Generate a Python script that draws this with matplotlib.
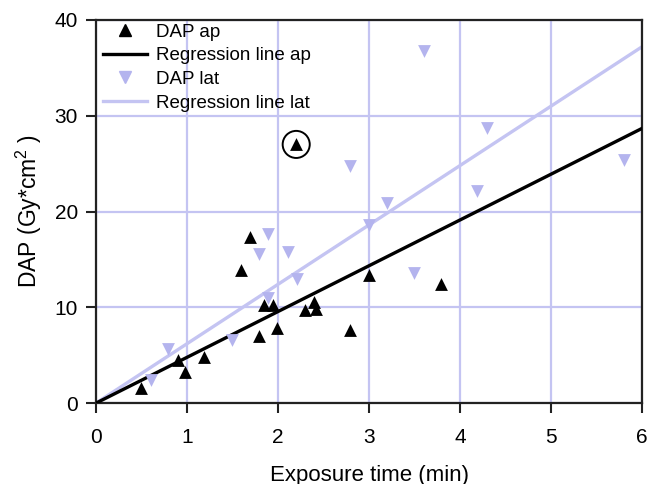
import matplotlib.pyplot as plt
import numpy as np

plt.rcParams['font.family'] = ['Liberation Sans', 'DejaVu Sans']
plt.rcParams['mathtext.fontset'] = 'custom'
plt.rcParams['mathtext.rm'] = 'Liberation Sans'
plt.rcParams['mathtext.it'] = 'Liberation Sans'

# DAP ap measurements (exposure time in min, DAP in Gy*cm2)
ap_time = [0.5, 0.9, 0.98, 1.19, 1.59, 1.69, 1.79, 1.85, 1.95, 1.99,
           2.2, 2.3, 2.4, 2.42, 2.79, 3.0, 3.79]
ap_dap = [1.6, 4.5, 3.3, 4.8, 13.9, 17.3, 7.0, 10.2, 10.2, 7.8,
          27.0, 9.7, 10.6, 9.8, 7.6, 13.4, 12.4]

# DAP lat measurements
lat_time = [0.6, 0.79, 1.5, 1.79, 1.89, 1.89, 2.11, 2.21, 2.79, 3.0,
            3.2, 3.49, 3.6, 4.19, 4.3, 5.8]
lat_dap = [2.4, 5.7, 6.6, 15.6, 17.7, 11.0, 15.8, 13.0, 24.8, 18.6,
           20.9, 13.6, 36.7, 22.1, 28.7, 25.4]

# regression slopes (lines through origin)
slope_ap = 4.78
slope_lat = 6.2

# the circled outlier
outlier = (2.2, 27.0)

lav = '#c4c4f2'
lav_pt = '#b4b4ee'

fig = plt.figure(figsize=(6.48, 4.84), dpi=100)
ax = fig.add_axes([0.148, 0.167, 0.843, 0.792])

ax.set_xlim(0, 6)
ax.set_ylim(0, 40)
ax.set_xticks(range(0, 7))
ax.set_yticks(range(0, 41, 10))
ax.grid(True, color=lav, linewidth=1.6)
ax.set_axisbelow(True)

xs = np.array([0, 6])
ax.plot(xs, slope_lat * xs, color=lav, lw=2.4, zorder=2)
ax.plot(xs, slope_ap * xs, color='black', lw=2.4, zorder=3)
ax.scatter(lat_time, lat_dap, marker='v', s=85, color=lav_pt, linewidths=0, zorder=4)
ax.scatter(ap_time, ap_dap, marker='^', s=85, color='black', linewidths=0, zorder=5)
ax.scatter([outlier[0]], [outlier[1]], marker='o', s=380, facecolors='none',
           edgecolors='black', linewidths=1.4, zorder=6)

# legend handles
h1, = ax.plot([], [], marker='^', ls='none', color='black', ms=9)
h2, = ax.plot([], [], color='black', lw=2.4)
h3, = ax.plot([], [], marker='v', ls='none', color=lav_pt, ms=9)
h4, = ax.plot([], [], color=lav, lw=2.4)
ax.legend([h1, h2, h3, h4],
          ['DAP ap', 'Regression line ap', 'DAP lat', 'Regression line lat'],
          loc='upper left', frameon=False, fontsize=13.5, handlelength=2.3,
          handletextpad=0.5, labelspacing=0.35, borderaxespad=0.0,
          bbox_to_anchor=(0.0, 1.01))

for s in ax.spines.values():
    s.set_color('#222222')
    s.set_linewidth(1.6)
ax.tick_params(direction='out', length=7, width=1.5, labelsize=15, color='#222222')
ax.tick_params(axis='x', pad=11)
ax.tick_params(axis='y', pad=6)

ax.set_xlabel('Exposure time (min)', fontsize=16)
ax.set_ylabel(r'DAP (Gy*cm$^{2}$ )', fontsize=16.5)
ax.xaxis.set_label_coords(0.5, -0.16)
ax.yaxis.set_label_coords(-0.095, 0.5)

fig.savefig('out.png', dpi=100)
